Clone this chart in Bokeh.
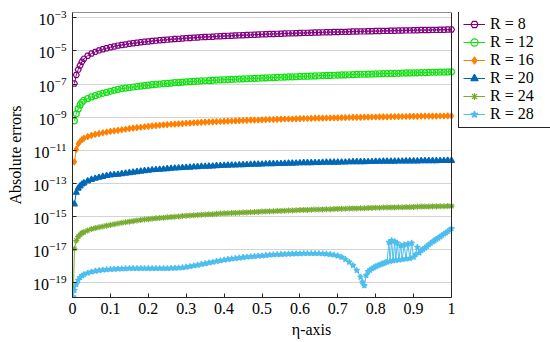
import numpy as np
from bokeh.plotting import figure
from bokeh.models import (Range1d, FixedTicker, Legend, LegendItem, BoxAnnotation,
                          PrintfTickFormatter, ColumnDataSource)
from bokeh.embed import file_html
from bokeh.resources import INLINE

# ---------------- data (log10 of absolute error) ----------------
eta = [0.0, 0.005, 0.01, 0.015, 0.02, 0.025,
       0.03, 0.04, 0.05, 0.06, 0.07, 0.08, 0.09,
       0.10, 0.11, 0.12, 0.13, 0.14, 0.15, 0.16, 0.17, 0.18, 0.19,
       0.20, 0.21, 0.22, 0.23, 0.24, 0.25, 0.26, 0.27, 0.28, 0.29,
       0.30, 0.31, 0.32, 0.33, 0.34, 0.35, 0.36, 0.37, 0.38, 0.39,
       0.40, 0.41, 0.42, 0.43, 0.44, 0.45, 0.46, 0.47, 0.48, 0.49,
       0.50, 0.51, 0.52, 0.53, 0.54, 0.55, 0.56, 0.57, 0.58, 0.59,
       0.60, 0.61, 0.62, 0.63, 0.64, 0.65, 0.66, 0.67, 0.68, 0.69,
       0.70, 0.71, 0.72, 0.73, 0.74, 0.75, 0.76, 0.77, 0.78, 0.79,
       0.80, 0.81, 0.82, 0.83, 0.84, 0.85, 0.86, 0.87, 0.88, 0.89,
       0.90, 0.91, 0.92, 0.93, 0.94, 0.95, 0.96, 0.97, 0.98, 0.99,
       1.00]

log_err_r8 = [None, -6.97, -6.45, -6.13, -5.88, -5.65,
              -5.48, -5.29, -5.16, -5.06, -4.97, -4.90, -4.84,
              -4.78, -4.73, -4.68, -4.64, -4.61, -4.57, -4.54, -4.51, -4.48, -4.45,
              -4.43, -4.40, -4.38, -4.36, -4.34, -4.32, -4.30, -4.28, -4.27, -4.25,
              -4.23, -4.22, -4.20, -4.19, -4.17, -4.16, -4.15, -4.14, -4.12, -4.11,
              -4.10, -4.09, -4.08, -4.07, -4.06, -4.05, -4.04, -4.03, -4.02, -4.01,
              -4.00, -3.99, -3.98, -3.98, -3.97, -3.96, -3.95, -3.94, -3.94, -3.93,
              -3.92, -3.91, -3.91, -3.90, -3.89, -3.89, -3.88, -3.87, -3.87, -3.86,
              -3.86, -3.85, -3.85, -3.84, -3.83, -3.83, -3.82, -3.82, -3.81, -3.81,
              -3.80, -3.80, -3.79, -3.79, -3.78, -3.78, -3.77, -3.77, -3.76, -3.76,
              -3.75, -3.75, -3.74, -3.74, -3.74, -3.73, -3.73, -3.72, -3.72, -3.71,
              -3.71]

log_err_r12 = [None, -9.22, -8.80, -8.50, -8.26, -8.10,
               -7.98, -7.88, -7.78, -7.70, -7.62, -7.56, -7.50,
               -7.44, -7.38, -7.32, -7.28, -7.25, -7.21, -7.18, -7.15, -7.12, -7.09,
               -7.07, -7.04, -7.02, -7.00, -6.98, -6.96, -6.94, -6.92, -6.91, -6.89,
               -6.87, -6.86, -6.84, -6.83, -6.81, -6.80, -6.79, -6.78, -6.76, -6.75,
               -6.74, -6.73, -6.72, -6.71, -6.70, -6.69, -6.68, -6.67, -6.66, -6.65,
               -6.64, -6.63, -6.62, -6.61, -6.60, -6.59, -6.58, -6.57, -6.57, -6.56,
               -6.54, -6.53, -6.53, -6.52, -6.51, -6.50, -6.49, -6.48, -6.48, -6.47,
               -6.46, -6.45, -6.45, -6.44, -6.43, -6.42, -6.41, -6.41, -6.40, -6.40,
               -6.39, -6.38, -6.37, -6.37, -6.36, -6.36, -6.35, -6.34, -6.33, -6.33,
               -6.32, -6.32, -6.31, -6.31, -6.30, -6.29, -6.29, -6.28, -6.28, -6.27,
               -6.26]

log_err_r16 = [None, -11.70, -10.95, -10.62, -10.47, -10.36,
               -10.28, -10.18, -10.10, -10.04, -9.99, -9.94, -9.90,
               -9.86, -9.83, -9.80, -9.76, -9.73, -9.69, -9.66, -9.63, -9.61, -9.58,
               -9.56, -9.53, -9.51, -9.49, -9.47, -9.45, -9.43, -9.42, -9.41, -9.39,
               -9.37, -9.36, -9.34, -9.33, -9.31, -9.30, -9.29, -9.28, -9.27, -9.26,
               -9.25, -9.24, -9.23, -9.22, -9.21, -9.20, -9.19, -9.18, -9.18, -9.17,
               -9.16, -9.15, -9.14, -9.14, -9.13, -9.12, -9.11, -9.11, -9.11, -9.10,
               -9.09, -9.08, -9.08, -9.07, -9.06, -9.06, -9.06, -9.05, -9.05, -9.04,
               -9.04, -9.03, -9.03, -9.02, -9.01, -9.01, -9.01, -9.00, -9.00, -8.99,
               -8.99, -8.98, -8.98, -8.98, -8.97, -8.97, -8.97, -8.96, -8.96, -8.95,
               -8.95, -8.95, -8.94, -8.94, -8.94, -8.94, -8.94, -8.93, -8.93, -8.92,
               -8.92]

log_err_r20 = [None, -14.25, -13.55, -13.30, -13.16, -13.05,
               -12.98, -12.86, -12.77, -12.70, -12.64, -12.59, -12.54,
               -12.50, -12.48, -12.46, -12.42, -12.39, -12.36, -12.33, -12.30, -12.27, -12.24,
               -12.22, -12.19, -12.17, -12.16, -12.14, -12.12, -12.10, -12.08, -12.07, -12.05,
               -12.04, -12.03, -12.01, -12.00, -11.98, -11.98, -11.97, -11.96, -11.94, -11.93,
               -11.92, -11.91, -11.90, -11.90, -11.89, -11.88, -11.87, -11.86, -11.85, -11.85,
               -11.84, -11.83, -11.82, -11.82, -11.81, -11.81, -11.80, -11.79, -11.79, -11.78,
               -11.77, -11.76, -11.76, -11.76, -11.75, -11.75, -11.74, -11.73, -11.73, -11.73,
               -11.73, -11.72, -11.72, -11.71, -11.70, -11.70, -11.70, -11.70, -11.69, -11.69,
               -11.68, -11.68, -11.67, -11.67, -11.67, -11.67, -11.66, -11.66, -11.65, -11.65,
               -11.65, -11.65, -11.64, -11.64, -11.64, -11.64, -11.64, -11.63, -11.63, -11.62,
               -11.62]

log_err_r24 = [-22.0, -16.95, -16.45, -16.22, -16.10, -16.00,
               -15.94, -15.84, -15.76, -15.70, -15.65, -15.60, -15.55,
               -15.51, -15.47, -15.42, -15.38, -15.35, -15.31, -15.28, -15.24, -15.21, -15.18,
               -15.16, -15.13, -15.11, -15.09, -15.07, -15.05, -15.03, -15.01, -15.00, -14.97,
               -14.95, -14.94, -14.92, -14.91, -14.89, -14.88, -14.87, -14.86, -14.84, -14.82,
               -14.81, -14.80, -14.79, -14.78, -14.77, -14.76, -14.75, -14.74, -14.73, -14.72,
               -14.70, -14.69, -14.68, -14.68, -14.67, -14.66, -14.65, -14.64, -14.64, -14.62,
               -14.61, -14.60, -14.60, -14.59, -14.58, -14.58, -14.57, -14.56, -14.56, -14.55,
               -14.54, -14.53, -14.53, -14.52, -14.51, -14.51, -14.50, -14.50, -14.49, -14.48,
               -14.47, -14.47, -14.46, -14.46, -14.45, -14.45, -14.44, -14.44, -14.43, -14.43,
               -14.42, -14.41, -14.40, -14.40, -14.40, -14.39, -14.39, -14.38, -14.38, -14.37,
               -14.37]

eta_r28 = [0.002, 0.005, 0.01, 0.015, 0.02, 0.025, 0.03, 0.04, 0.05, 0.06, 0.07, 0.08, 0.09,
           0.10, 0.11, 0.12, 0.13, 0.14, 0.15, 0.16, 0.17, 0.18, 0.19,
           0.20, 0.21, 0.22, 0.23, 0.24, 0.25, 0.26, 0.27, 0.28, 0.29,
           0.30, 0.31, 0.32, 0.33, 0.34, 0.35, 0.36, 0.37, 0.38, 0.39,
           0.40, 0.41, 0.42, 0.43, 0.44, 0.45, 0.46, 0.47, 0.48, 0.49,
           0.50, 0.51, 0.52, 0.53, 0.54, 0.55, 0.56, 0.57, 0.58, 0.59,
           0.60, 0.61, 0.62, 0.63, 0.64, 0.65, 0.66, 0.67, 0.68, 0.69,
           0.70, 0.71, 0.72, 0.73, 0.74, 0.75, 0.76, 0.765, 0.77, 0.775,
           0.78, 0.785, 0.79, 0.795, 0.80, 0.805, 0.81, 0.815, 0.82, 0.825, 0.83,
           0.835, 0.838, 0.842, 0.846, 0.850, 0.853, 0.857, 0.861, 0.866, 0.870,
           0.875, 0.880, 0.885, 0.890, 0.895, 0.900, 0.905, 0.910, 0.915,
           0.92, 0.925, 0.93, 0.935, 0.94, 0.945, 0.95, 0.955, 0.96, 0.965,
           0.97, 0.975, 0.98, 0.985, 0.99, 0.995, 1.00]

log_err_r28 = [-19.85, -19.45, -19.10, -18.85, -18.68, -18.57, -18.50, -18.41, -18.34, -18.29, -18.25, -18.22, -18.20,
               -18.18, -18.17, -18.16, -18.15, -18.14, -18.13, -18.13, -18.13, -18.13, -18.13,
               -18.13, -18.13, -18.13, -18.13, -18.13, -18.13, -18.12, -18.11, -18.10, -18.08,
               -18.05, -18.01, -17.97, -17.93, -17.88, -17.84, -17.79, -17.75, -17.70, -17.66,
               -17.62, -17.58, -17.55, -17.52, -17.49, -17.46, -17.44, -17.42, -17.40, -17.38,
               -17.36, -17.34, -17.32, -17.30, -17.29, -17.28, -17.27, -17.26, -17.25, -17.24,
               -17.24, -17.23, -17.23, -17.23, -17.23, -17.23, -17.24, -17.26, -17.28, -17.32,
               -17.37, -17.45, -17.58, -17.75, -17.95, -18.25, -18.65, -18.95, -19.17, -18.55,
               -18.32, -18.23, -18.15, -18.08, -18.02, -17.97, -17.92, -17.87, -17.83, -17.78, -17.74,
               -16.55, -17.70, -16.45, -17.66, -16.50, -17.64, -16.60, -17.62, -16.75, -17.58,
               -16.70, -17.55, -16.65, -17.52, -16.60, -17.45, -17.30, -16.85, -17.20,
               -17.05, -16.97, -16.90, -16.80, -16.70, -16.61, -16.52, -16.45, -16.38, -16.30,
               -16.22, -16.14, -16.05, -15.98, -15.90, -15.81, -15.73]

labels = ["R = 8", "R = 12", "R = 16", "R = 20", "R = 24", "R = 28"]
x_ticks = [0, 0.1, 0.2, 0.3, 0.4, 0.5, 0.6, 0.7, 0.8, 0.9, 1]
y_tick_exponents = [-19, -17, -15, -13, -11, -9, -7, -5, -3]
x_min, x_max = 0.0, 1.0
y_min, y_max = 10 ** -19.89, 10 ** -2.68

# ---------------- layout / styling ----------------
FONT = "Liberation Serif"
AX = "#262626"
W, H = 550, 342
LEFT, TOP, BOTTOM = 72, 12, 45
AXES_W = 379                       # width of the data frame in px
FRAME_W = W - LEFT                 # frame extends under the legend area
x_view_end = x_min + (x_max - x_min) * FRAME_W / AXES_W

series = [
    (eta, log_err_r8, "#800080", "hex", False),
    (eta, log_err_r12, "#10e010", "circle", False),
    (eta, log_err_r16, "#ff8000", "diamond", True),
    (eta, log_err_r20, "#0068b5", "triangle", True),
    (eta, log_err_r24, "#77ac30", "asterisk", True),
    (eta_r28, log_err_r28, "#4dbeee", "star", True),
]

p = figure(width=W, height=H, y_axis_type="log",
           x_range=Range1d(x_min, x_view_end), y_range=Range1d(y_min, y_max),
           output_backend="svg", toolbar_location=None,
           min_border_left=LEFT, min_border_right=0, min_border_top=TOP, min_border_bottom=BOTTOM)
p.background_fill_color = "white"
p.border_fill_color = "white"
p.outline_line_color = None

yticker = FixedTicker(ticks=[10.0 ** e for e in y_tick_exponents])
xticker = FixedTicker(ticks=x_ticks)

p.yaxis.ticker = yticker
p.ygrid.ticker = yticker
p.xaxis.ticker = xticker
p.xaxis.formatter = PrintfTickFormatter(format="%g")
p.xaxis.bounds = (x_min, x_max)
p.xgrid.grid_line_color = None
p.ygrid.grid_line_color = "#d4d4d4"
p.ygrid.grid_line_width = 1

for ax in (p.xaxis[0], p.yaxis[0]):
    ax.axis_line_color = AX
    ax.major_tick_line_color = AX
    ax.major_tick_in = 4
    ax.major_tick_out = 0
    ax.minor_tick_line_color = None
    ax.major_label_text_font = FONT
    ax.major_label_text_font_size = "16px"
    ax.major_label_text_color = "black"
    ax.axis_label_text_font = FONT
    ax.axis_label_text_font_size = "16px"
    ax.axis_label_text_font_style = "normal"
    ax.axis_label_text_color = "black"

p.xaxis.axis_label = "η-axis"
p.yaxis.axis_label = "Absolute errors"
p.xaxis.major_label_standoff = 5
p.xaxis.axis_label_standoff = 4
p.yaxis.major_label_standoff = 6
p.yaxis.axis_label_standoff = 6

# white cover for the part of the frame right of the data area (hides grid lines there)
p.add_layout(BoxAnnotation(left=x_max, fill_color="white", fill_alpha=1, line_color=None,
                           level="underlay"))

items = []
for (xs, ls, color, marker, filled), lab in zip(series, labels):
    ys = [np.nan if v is None else 10.0 ** v for v in ls]
    src = ColumnDataSource(dict(x=xs, y=ys))
    r_line = p.line("x", "y", source=src, line_color=color, line_width=1)
    r_pts = p.scatter("x", "y", source=src, marker=marker, size=6,
                      line_color=color, line_width=1.2,
                      fill_color=color if filled else None)
    items.append(LegendItem(label=lab, renderers=[r_line, r_pts]))

# axes box around the data area
p.add_layout(BoxAnnotation(left=x_min, right=x_max, bottom=y_min, top=y_max,
                           fill_color=None, line_color=AX, line_alpha=1, line_width=1))

frame_h = H - TOP - BOTTOM
legend_h = 116
legend = Legend(items=items, location=(AXES_W + 7, frame_h - legend_h))
legend.label_text_font = FONT
legend.label_text_font_size = "16px"
legend.label_text_color = "black"
legend.border_line_color = AX
legend.border_line_alpha = 1
legend.border_line_width = 1
legend.background_fill_color = "white"
legend.background_fill_alpha = 1
legend.padding = 4
legend.spacing = 0
legend.glyph_width = 22
legend.glyph_height = 18
legend.label_height = 18
legend.label_width = 56
legend.label_standoff = 5
p.add_layout(legend)

open("out.html", "w").write(file_html(p, INLINE))
